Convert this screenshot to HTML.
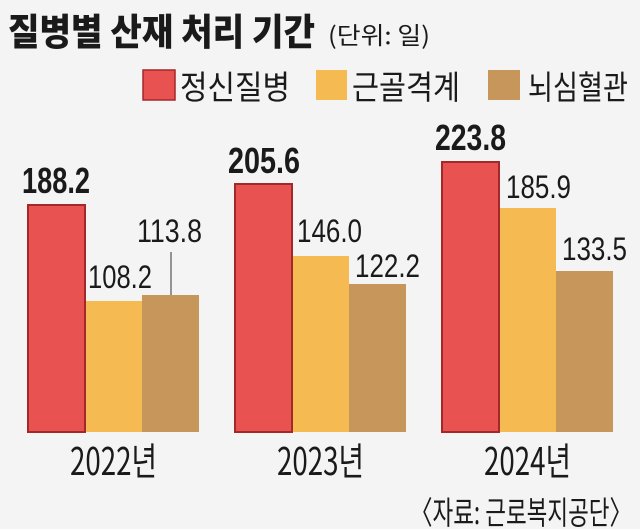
<!DOCTYPE html>
<html><head><meta charset="utf-8"><style>
html,body{margin:0;padding:0;background:#f4f4f4;}
svg{display:block;}
text{font-family:"Liberation Sans","Noto Sans CJK KR",sans-serif;fill:#1a1a1a;}
.k{font-family:"Noto Sans CJK KR","NanumGothic",sans-serif;}
</style></head><body>
<svg width="640" height="529" viewBox="0 0 640 529" xmlns="http://www.w3.org/2000/svg">
<rect width="640" height="529" fill="#f4f4f4"/>
<text class="k" x="8" y="45" font-size="37" font-weight="900" textLength="307" lengthAdjust="spacingAndGlyphs">질병별 산재 처리 기간</text>
<text class="k" x="328" y="44" font-size="24" textLength="102" lengthAdjust="spacingAndGlyphs">(단위: 일)</text>
<rect x="143" y="70" width="32" height="30" fill="#e85250" stroke="#a3282a" stroke-width="1.5"/>
<text class="k" x="180" y="99" font-size="33" textLength="110" lengthAdjust="spacingAndGlyphs">정신질병</text>
<rect x="316" y="70" width="31" height="30" fill="#f5bb52"/>
<text class="k" x="352" y="99" font-size="33" textLength="108" lengthAdjust="spacingAndGlyphs">근골격계</text>
<rect x="488" y="70" width="32" height="30" fill="#c6965a"/>
<text class="k" x="528" y="99" font-size="33" textLength="100" lengthAdjust="spacingAndGlyphs">뇌심혈관</text>
<!-- 2022 -->
<rect x="28" y="205" width="57" height="227" fill="#e85250" stroke="#a3282a" stroke-width="2"/>
<rect x="86" y="301" width="56" height="131" fill="#f5bb52"/>
<rect x="142" y="295" width="57" height="137" fill="#c6965a"/>
<line x1="171" y1="252" x2="171" y2="295" stroke="#333" stroke-width="1"/>
<text x="22" y="193" font-size="36" font-weight="bold" textLength="68" lengthAdjust="spacingAndGlyphs">188.2</text>
<text x="88" y="288" font-size="32" textLength="64" lengthAdjust="spacingAndGlyphs">108.2</text>
<text x="137" y="242" font-size="32" textLength="65" lengthAdjust="spacingAndGlyphs">113.8</text>
<!-- 2023 -->
<rect x="235" y="184" width="57" height="248" fill="#e85250" stroke="#a3282a" stroke-width="2"/>
<rect x="293" y="256" width="56" height="176" fill="#f5bb52"/>
<rect x="349" y="284" width="57" height="148" fill="#c6965a"/>
<text x="228" y="173" font-size="36" font-weight="bold" textLength="72" lengthAdjust="spacingAndGlyphs">205.6</text>
<text x="297" y="242" font-size="32" textLength="65" lengthAdjust="spacingAndGlyphs">146.0</text>
<text x="355" y="277" font-size="32" textLength="65" lengthAdjust="spacingAndGlyphs">122.2</text>
<!-- 2024 -->
<rect x="442" y="162" width="57" height="270" fill="#e85250" stroke="#a3282a" stroke-width="2"/>
<rect x="500" y="208" width="56" height="224" fill="#f5bb52"/>
<rect x="556" y="271" width="57" height="161" fill="#c6965a"/>
<text x="435" y="150" font-size="36" font-weight="bold" textLength="71" lengthAdjust="spacingAndGlyphs">223.8</text>
<text x="506" y="198" font-size="32" textLength="65" lengthAdjust="spacingAndGlyphs">185.9</text>
<text x="562" y="260" font-size="32" textLength="65" lengthAdjust="spacingAndGlyphs">133.5</text>
<!-- years -->
<text class="k" x="70" y="475" font-size="38" textLength="87" lengthAdjust="spacingAndGlyphs">2022년</text>
<text class="k" x="277" y="475" font-size="38" textLength="87" lengthAdjust="spacingAndGlyphs">2023년</text>
<text class="k" x="484" y="475" font-size="38" textLength="87" lengthAdjust="spacingAndGlyphs">2024년</text>
<text class="k" x="410" y="524" font-size="32" textLength="222" lengthAdjust="spacingAndGlyphs">〈자료: 근로복지공단〉</text>
</svg>
</body></html>
